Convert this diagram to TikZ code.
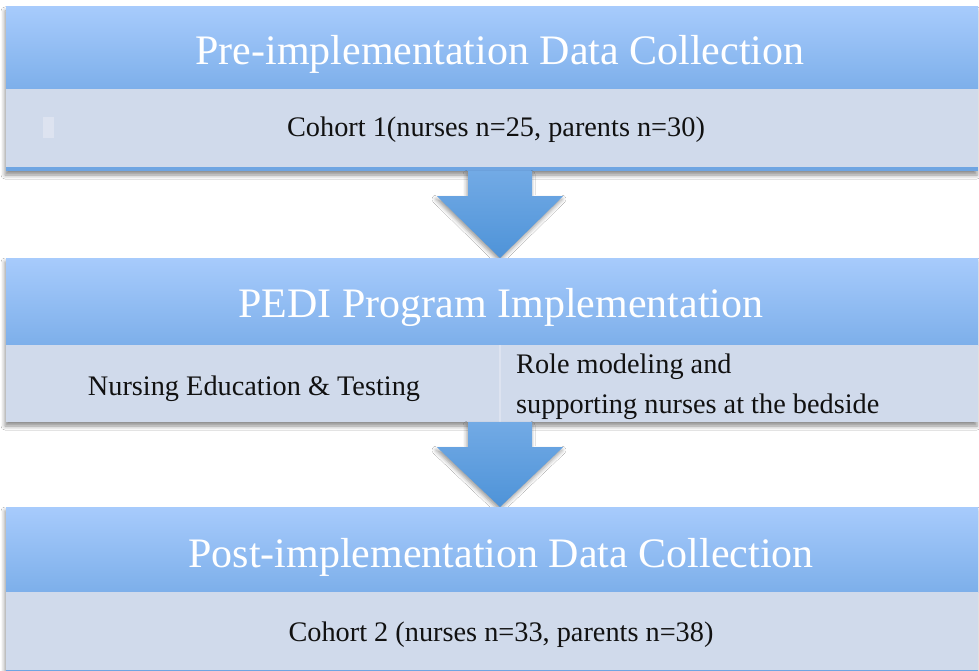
\documentclass[tikz,border=0pt]{standalone}
\usepackage{fontspec}
\setmainfont{Liberation Serif}
\usetikzlibrary{calc,shadows.blur}
\definecolor{hdtop}{HTML}{A7CBFC}
\definecolor{hdbot}{HTML}{7DAFEA}
\definecolor{bodyc}{HTML}{D0DAEB}
\definecolor{stripc}{HTML}{6FA5E2}
\definecolor{arrtop}{HTML}{72AAE5}
\definecolor{arrbot}{HTML}{4E93D8}
\definecolor{divc}{HTML}{DDE3F0}
\definecolor{txt}{HTML}{111111}
\begin{document}
\begin{tikzpicture}[x=1pt,y=-1pt,
  blockbg/.style={fill=bodyc, draw=none, inner sep=0pt, minimum width=972pt,
    blur shadow={shadow xshift=-1pt, shadow yshift=-4pt, shadow blur radius=4pt, shadow opacity=45}},
  hdr/.style={top color=hdtop, bottom color=hdbot, draw=none, inner sep=0pt, minimum width=972pt},
  cell/.style={fill=bodyc, draw=none, inner sep=0pt},
  strip/.style={fill=stripc, draw=none, inner sep=0pt, minimum width=972pt},
  titletext/.style={text=white, inner sep=0pt, font=\fontsize{42}{48}\selectfont},
  bodytext/.style={text=txt, inner sep=0pt, font=\fontsize{28.3}{40}\selectfont},
  arrowshade/.style={top color=arrtop, bottom color=arrbot, draw=none,
    blur shadow={shadow xshift=-1pt, shadow yshift=-3pt, shadow blur radius=4pt, shadow opacity=40}}
]
\useasboundingbox (0,0) rectangle (979,671);
\fill[white] (0,0) rectangle (979,671);

% ---- Block 1
\node[blockbg, minimum height=164pt] (b1) at (492,89) {};
\node[hdr, minimum height=82pt] (h1) at (492,48) {};
\node[cell, minimum width=972pt, minimum height=78pt] (c1) at (492,128) {};
\node[strip, minimum height=4pt] (s1) at (492,169) {};
\node[fill=divc, inner sep=0pt, minimum width=11pt, minimum height=21pt] (art) at (48.5,127.5) {};
\node[titletext, anchor=base] (t1) at (500,65) {Pre-implementation Data Collection};
\node[bodytext, anchor=base] (k1) at (496,137) {Cohort 1(nurses n=25, parents n=30)};

% ---- Arrow 1
\coordinate (a1s) at ($(b1.south)+(8,0)$);
\coordinate (a1t) at (500,258);
\shade[arrowshade] ($(a1s)+(-32,0)$) -- ($(a1s)+(-32,25)$) -- ($(a1s)+(-63,25)$) -- (a1t)
  -- ($(a1s)+(63,25)$) -- ($(a1s)+(32,25)$) -- ($(a1s)+(32,0)$) -- cycle;

% ---- Block 2
\node[blockbg, minimum height=164pt] (b2) at (492,340) {};
\node[hdr, minimum height=87pt] (h2) at (492,301.5) {};
\node[cell, minimum width=494pt, minimum height=77pt] (c2l) at (253,383.5) {};
\node[cell, minimum width=478pt, minimum height=77pt] (c2r) at (739,383.5) {};
\draw[divc, line width=1.5pt] (c2r.north west) -- (c2r.south west);
\node[titletext, anchor=base] (t2) at (501,317) {PEDI Program Implementation};
\node[bodytext, anchor=base] (k2l) at (254,395) {Nursing Education \& Testing};
\node[bodytext, anchor=base west] (k2r1) at (516,373) {Role modeling and};
\node[bodytext, anchor=base west] (k2r2) at (516,413) {supporting nurses at the bedside};

% ---- Arrow 2
\coordinate (a2s) at ($(b2.south)+(8,0)$);
\coordinate (a2t) at (500,507);
\shade[arrowshade] ($(a2s)+(-32,0)$) -- ($(a2s)+(-32,25)$) -- ($(a2s)+(-63,25)$) -- (a2t)
  -- ($(a2s)+(63,25)$) -- ($(a2s)+(32,25)$) -- ($(a2s)+(32,0)$) -- cycle;

% ---- Block 3
\node[blockbg, minimum height=165pt] (b3) at (492,589.5) {};
\node[hdr, minimum height=85pt] (h3) at (492,549.5) {};
\node[cell, minimum width=972pt, minimum height=78pt] (c3) at (492,631) {};
\node[strip, minimum height=2pt] (s3) at (492,671) {};
\node[titletext, anchor=base] (t3) at (501,567) {Post-implementation Data Collection};
\node[bodytext, anchor=base] (k3) at (501,641) {Cohort 2 (nurses n=33, parents n=38)};
\end{tikzpicture}
\end{document}
